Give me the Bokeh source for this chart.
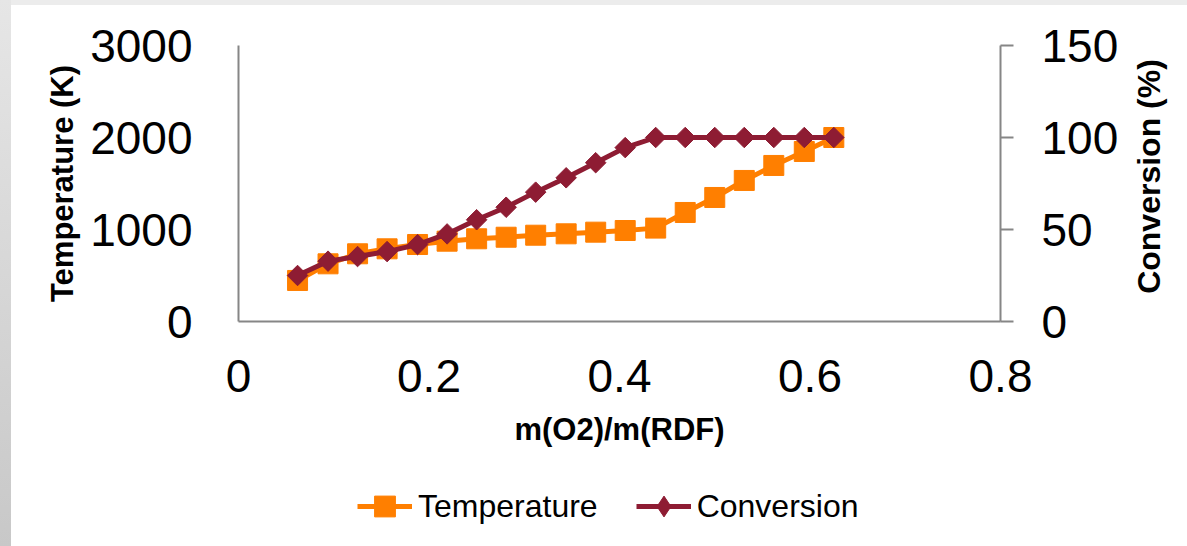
import math
from bokeh.plotting import figure
from bokeh.layouts import column, row
from bokeh.models import (Range1d, LinearAxis, FixedTicker, Legend, LegendItem,
                          ColumnDataSource, Label, Spacer)
from bokeh.embed import file_html
from bokeh.resources import INLINE

# ---- data ----
ratio = [0.062, 0.094, 0.125, 0.156, 0.188, 0.219, 0.250, 0.281, 0.312, 0.344,
         0.375, 0.406, 0.438, 0.469, 0.500, 0.531, 0.562, 0.594, 0.625]
temperature = [446, 627, 736, 790, 837, 873, 899, 916, 938, 953,
               971, 989, 1015, 1185, 1348, 1533, 1696, 1848, 2000]
conversion = [25.0, 32.8, 35.3, 38.0, 41.8, 47.6, 55.3, 62.1, 70.3, 78.1,
              86.3, 94.5, 100.0, 100.0, 100.0, 100.0, 100.0, 100.0, 100.0]

x_ticks = [0, 0.2, 0.4, 0.6, 0.8]
x_tick_labels = ["0", "0.2", "0.4", "0.6", "0.8"]
t_ticks = [0, 1000, 2000, 3000]
c_ticks = [0, 50, 100, 150]
series_names = ["Temperature", "Conversion"]

ORANGE = "#FF7F00"
DARKRED = "#8E1C33"
AXIS_GRAY = "#868686"
FONT = "Liberation Sans"

src = ColumnDataSource(dict(x=ratio, t=temperature, c=conversion))

p = figure(width=1121, height=461, output_backend="svg", toolbar_location=None,
           x_range=Range1d(0, 0.8), y_range=Range1d(0, 3000),
           min_border_left=227, min_border_right=132,
           min_border_top=40, min_border_bottom=145,
           x_axis_location=None, y_axis_location=None)
p.extra_y_ranges = {"conv": Range1d(0, 150)}
p.outline_line_color = None
p.xgrid.visible = False
p.ygrid.visible = False
p.background_fill_color = "white"
p.border_fill_color = "white"

def style_axis(ax):
    ax.axis_line_color = AXIS_GRAY
    ax.axis_line_width = 2
    ax.major_tick_line_color = AXIS_GRAY
    ax.major_tick_line_width = 2
    ax.minor_tick_line_color = None
    ax.major_label_text_font = FONT
    ax.major_label_text_font_size = "46px"
    ax.major_label_text_color = "black"
    ax.axis_label_text_font = FONT
    ax.axis_label_text_font_size = "31px"
    ax.axis_label_text_font_style = "bold"
    ax.axis_label_text_color = "black"

xaxis = LinearAxis(ticker=FixedTicker(ticks=x_ticks), axis_label="m(O2)/m(RDF)")
style_axis(xaxis)
xaxis.major_tick_out = 0
xaxis.major_tick_in = 0
xaxis.major_label_standoff = 38
xaxis.axis_label_standoff = 17
xaxis.major_label_overrides = {t: s for t, s in zip(x_ticks, x_tick_labels)}
p.add_layout(xaxis, "below")

taxis = LinearAxis(ticker=FixedTicker(ticks=t_ticks), axis_label="Temperature (K)")
style_axis(taxis)
taxis.major_tick_out = 0
taxis.major_tick_in = 0
taxis.major_label_standoff = 46
taxis.axis_label_standoff = 7
p.add_layout(taxis, "left")

caxis = LinearAxis(y_range_name="conv", ticker=FixedTicker(ticks=c_ticks))
style_axis(caxis)
caxis.major_tick_out = 13
caxis.major_tick_in = 0
caxis.major_label_standoff = 28
p.add_layout(caxis, "right")

p.line("x", "t", source=src, line_color=ORANGE, line_width=5)
p.scatter("x", "t", source=src, marker="square", size=20,
          fill_color=ORANGE, line_color=ORANGE)
p.line("x", "c", source=src, y_range_name="conv", line_color=DARKRED, line_width=5)
p.scatter("x", "c", source=src, y_range_name="conv", marker="square", size=14.5,
          angle=math.pi / 4, fill_color=DARKRED, line_color=DARKRED)

# ---- right-hand axis title (reads bottom to top, as in the reference) ----
rf = figure(width=55, height=461, output_backend="svg", toolbar_location=None,
            x_range=Range1d(0, 1), y_range=Range1d(0, 1), min_border=0,
            x_axis_location=None, y_axis_location=None)
rf.outline_line_color = None
rf.xgrid.visible = False
rf.ygrid.visible = False
rf.border_fill_color = "white"
rf.background_fill_color = "white"
rf.add_layout(Label(x=16, y=145, x_units="screen", y_units="screen",
                    text="Conversion (%)", angle=math.pi / 2,
                    text_align="center", text_baseline="middle",
                    text_font=FONT, text_font_size="32px",
                    text_font_style="bold", text_color="black"))

# ---- legend strip underneath ----
lf = figure(width=1176, height=80, output_backend="svg", toolbar_location=None,
            x_range=Range1d(0, 1), y_range=Range1d(0, 1), min_border=0,
            x_axis_location=None, y_axis_location=None)
lf.outline_line_color = None
lf.xgrid.visible = False
lf.ygrid.visible = False
lf.border_fill_color = "white"
lf.background_fill_color = "white"
# same series, outside this strip's ranges: only their legend swatches show
tl = lf.line("x", "t", source=src, line_color=ORANGE, line_width=5)
ts = lf.scatter("x", "t", source=src, marker="square", size=20,
                fill_color=ORANGE, line_color=ORANGE)
cl = lf.line("x", "c", source=src, line_color=DARKRED, line_width=5)
cs = lf.scatter("x", "c", source=src, marker="diamond", size=22,
                fill_color=DARKRED, line_color=DARKRED)

legend = Legend(items=[LegendItem(label=series_names[0], renderers=[tl, ts]),
                       LegendItem(label=series_names[1], renderers=[cl, cs])],
                orientation="horizontal", location=(346, 14),
                glyph_width=55, glyph_height=52, label_standoff=6, spacing=38,
                padding=0, margin=0, border_line_color=None,
                background_fill_alpha=0,
                label_text_font=FONT, label_text_font_size="32px",
                label_text_color="black")
lf.add_layout(legend, "center")

# ---- light grey slide frame at the left and top edges ----
top_strip = Spacer(width=1176, height=5, styles={"background-color": "#ececec"})
left_strip = Spacer(width=11, height=546,
                    styles={"background": "linear-gradient(to bottom, #e6e6e6, #c8c8c8)"})

content = column(top_strip, row(p, rf, spacing=0), lf, spacing=0)
layout = row(left_strip, content, spacing=0)
open("out.html", "w").write(file_html(layout, INLINE))
